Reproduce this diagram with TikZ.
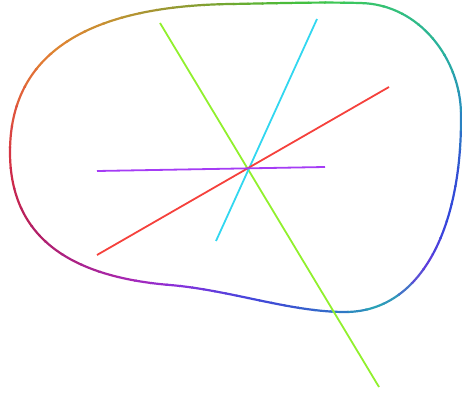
\documentclass[tikz,border=0pt]{standalone}
\usetikzlibrary{calc}
\definecolor{a0}{RGB}{50,80,210}
\definecolor{a1}{RGB}{40,140,190}
\definecolor{a2}{RGB}{40,175,160}
\definecolor{a3}{RGB}{50,190,130}
\definecolor{a4}{RGB}{60,200,90}
\definecolor{a5}{RGB}{70,190,60}
\definecolor{a6}{RGB}{100,175,50}
\definecolor{a7}{RGB}{130,160,50}
\definecolor{a8}{RGB}{160,150,50}
\definecolor{a9}{RGB}{200,145,50}
\definecolor{a10}{RGB}{225,130,50}
\definecolor{a11}{RGB}{225,90,60}
\definecolor{a12}{RGB}{210,45,70}
\definecolor{a13}{RGB}{180,30,95}
\definecolor{a14}{RGB}{170,35,140}
\definecolor{a15}{RGB}{165,40,185}
\definecolor{a16}{RGB}{135,50,220}
\definecolor{a17}{RGB}{100,60,220}
\definecolor{a18}{RGB}{70,70,220}
\definecolor{a19}{RGB}{60,80,210}
\definecolor{a20}{RGB}{50,110,200}
\definecolor{a21}{RGB}{40,170,180}
\definecolor{a22}{RGB}{100,60,220}
\definecolor{a23}{RGB}{50,70,220}
\definecolor{a24}{RGB}{50,80,210}
\definecolor{lpurple}{RGB}{165,60,245}
\definecolor{lred}{RGB}{245,65,60}
\definecolor{lcyan}{RGB}{50,215,240}
\definecolor{lgreen}{RGB}{145,240,45}
\tikzset{
  blob/.style={line width=2.2pt, line join=round},
  ray/.style={line width=1.8pt}
}
\newcommand\blobcurve[1]{\draw[blob,#1] (10,152)
  .. controls (10,55) and (85,6) .. (231,4)
  .. controls (290,3) and (320,2) .. (360,3)
  .. controls (420,4) and (461,60) .. (461,115)
  .. controls (462,230) and (420,312) .. (345,312)
  .. controls (290,312) and (230,290) .. (170,285)
  .. controls (60,276) and (10,230) .. (10,152) -- cycle;}
\begin{document}
\begin{tikzpicture}[x=1pt,y=-1pt]
\useasboundingbox (0,0) rectangle (462,395);
\coordinate (c) at (248,168);
\foreach \i in {0,...,71}{
  \pgfmathtruncatemacro\k{floor(\i/3)}
  \pgfmathtruncatemacro\kk{\k+1}
  \pgfmathtruncatemacro\p{round((mod(\i,3)+0.5)*100/3)}
  \pgfmathsetmacro\tha{5*\i-0.2}
  \pgfmathsetmacro\thb{5*\i+5.2}
  \begin{scope}
    \clip (c) -- ($(c)+(\tha:900pt)$) -- ($(c)+(\thb:900pt)$) -- cycle;
    \blobcurve{color=a\kk!\p!a\k}
  \end{scope}
}
\coordinate (p1) at (97,171);
\coordinate (p2) at (325,167);
\coordinate (r1) at (97,255);
\coordinate (r2) at (389,87);
\coordinate (c1) at (216,241);
\coordinate (c2) at (317,19);
\coordinate (g1) at (160,23);
\coordinate (g2) at (379,387);
\draw[ray,lgreen] (g1) -- (g2);
\draw[ray,lcyan] (c1) -- (c2);
\draw[ray,lred] (r1) -- (r2);
\draw[ray,lpurple] (p1) -- (p2);
\end{tikzpicture}
\end{document}
